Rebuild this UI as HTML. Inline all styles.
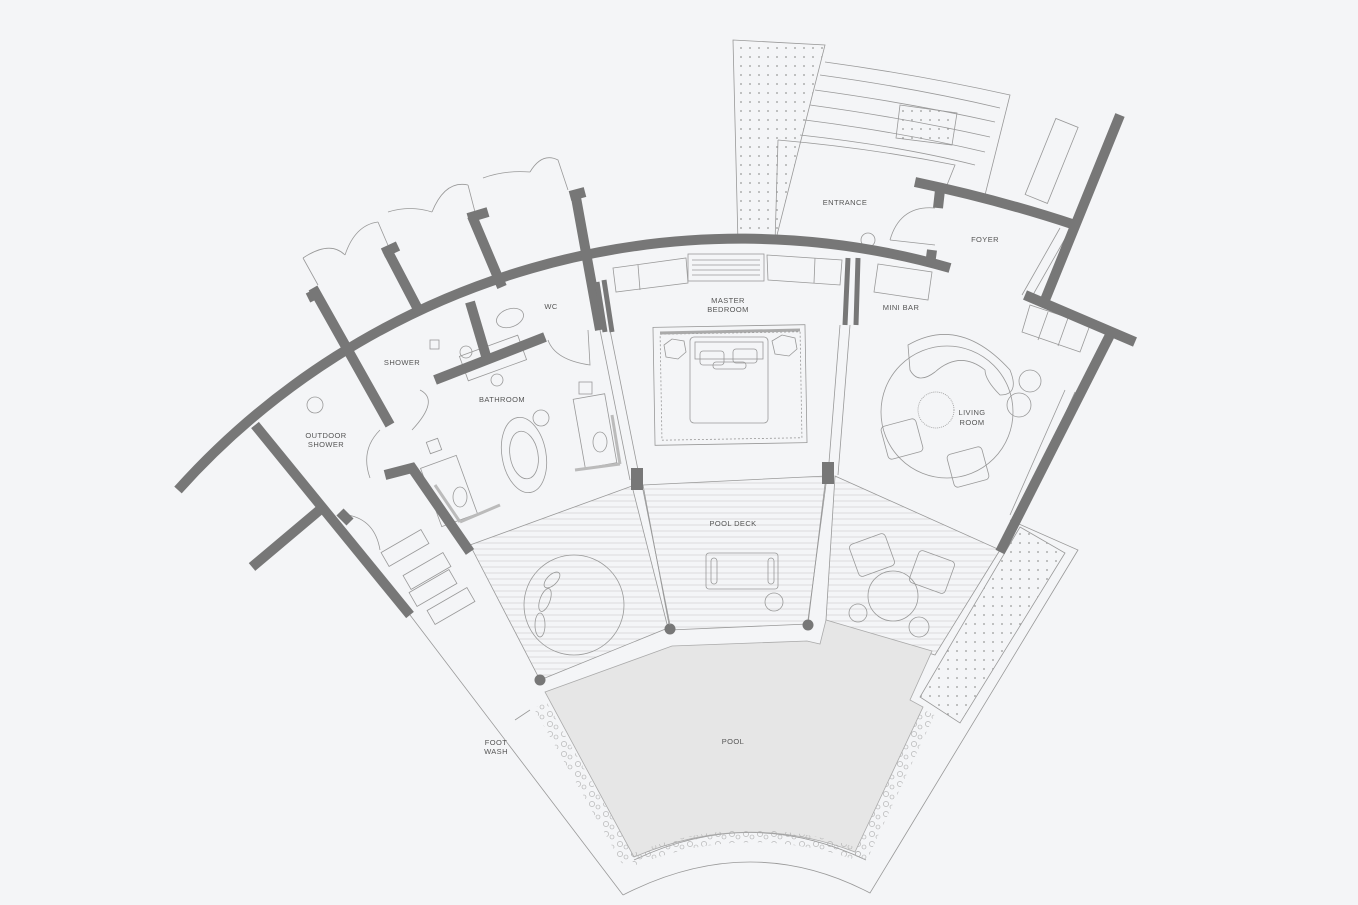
<!DOCTYPE html>
<html><head><meta charset="utf-8"><style>
html,body{margin:0;padding:0;background:#f4f5f7;}
svg{display:block}
text{font-family:"Liberation Sans",sans-serif;font-size:7.5px;fill:#555;text-anchor:middle;letter-spacing:0.4px}
</style></head><body>
<svg width="1358" height="905" viewBox="0 0 1358 905" xmlns="http://www.w3.org/2000/svg">
<defs>
<pattern id="hatch" width="8" height="6" patternUnits="userSpaceOnUse"><line x1="0" y1="3" x2="8" y2="3" stroke="#d6d6d6" stroke-width="0.8"/></pattern>
<pattern id="dots" width="9" height="9" patternUnits="userSpaceOnUse"><circle cx="3" cy="3" r="0.9" fill="#999"/></pattern>
<pattern id="peb" width="14" height="10" patternUnits="userSpaceOnUse"><circle cx="4" cy="4" r="2.6" fill="none" stroke="#aaa" stroke-width="0.6"/><circle cx="10" cy="7" r="2" fill="none" stroke="#aaa" stroke-width="0.6"/></pattern>
</defs>
<g fill="none" stroke="#999" stroke-width="0.8">
<!-- decks hatch -->
<polygon points="470,545 632,486 668,628 540,680" fill="url(#hatch)"/>
<polygon points="643,485 826,476 808,624 670,630" fill="url(#hatch)"/>
<polygon points="835,476 1000,550 935,655 826,620" fill="url(#hatch)"/>
<!-- outer boundary -->
<path d="M410,615 L623,895"/>
<path d="M623,895 Q750,830 870,893 L1078,550 L1010,520"/>
<path d="M634,860 Q750,805 866,860"/>
<!-- pool -->
<path d="M545,692 L672,646 L807,641 L820,644 L826,620 L932,651 L910,700 L923,707 L855,852 Q745,810 634,857 Z" fill="#e6e6e6" stroke="#aaa"/>
<!-- pebble bands -->
<path d="M540,705 L628,860" stroke="url(#peb)" stroke-width="14"/>
<path d="M632,860 Q745,815 860,855" stroke="url(#peb)" stroke-width="12"/>
<path d="M928,712 L860,858" stroke="url(#peb)" stroke-width="14"/>
<!-- dotted strips -->
<polygon points="1020,527 1065,553 960,723 920,697" fill="url(#dots)"/>
<polygon points="733,40 825,45 775,243 738,243" fill="url(#dots)"/>
<polygon points="900,105 957,113 952,145 896,138" fill="url(#dots)"/>
<!-- entrance steps -->
<path d="M825,62 Q920,75 1010,95 L985,195"/>
<path d="M820,75 Q915,88 1000,108"/><path d="M815,90 Q910,103 995,122"/><path d="M810,105 Q905,118 990,137"/><path d="M805,120 Q900,132 985,152"/><path d="M800,135 Q900,146 975,165"/>
<path d="M778,140 Q870,148 955,165 L945,190"/><path d="M778,140 L775,243"/>
<rect x="1040" y="120" width="24" height="82" transform="rotate(22 1052 160)"/>
<!-- arcs doors top left -->
<path d="M303,258 Q330,240 345,255 M345,255 Q355,225 378,222 M388,212 Q410,205 432,212 M432,212 Q445,180 468,185 M483,178 Q505,170 530,172 M530,172 Q542,152 558,160 L568,190"/>
<path d="M303,258 L318,285 M378,222 L390,250 M468,185 L475,212"/>
<!-- room lines -->
<path d="M600,330 L630,480 M610,330 L640,480 M840,325 L828,475 M850,325 L838,475"/>
<path d="M1070,230 L1030,300 M1060,228 L1022,295"/>
<path d="M1065,390 L1010,515 M1075,392 L1018,518"/>
<!-- bedroom furniture -->
<polygon points="613,268 686,258 688,283 616,292"/><line x1="638" y1="265" x2="640" y2="290"/>
<rect x="688" y="254" width="76" height="27"/>
<path d="M692,260 H760 M692,265 H760 M692,270 H760 M692,275 H760"/>
<polygon points="767,255 842,260 840,285 768,280"/><line x1="815" y1="258" x2="814" y2="283"/>
<rect x="654" y="326" width="152" height="118" transform="rotate(-1 730 385)"/>
<rect x="661" y="333" width="140" height="106" stroke-dasharray="2,2" transform="rotate(-1 730 385)"/>
<line x1="660" y1="333" x2="800" y2="330" stroke="#aaa" stroke-width="3"/>
<rect x="690" y="337" width="78" height="86" rx="4"/>
<rect x="695" y="342" width="68" height="17"/>
<rect x="700" y="351" width="24" height="14" rx="3"/><rect x="733" y="349" width="24" height="14" rx="3"/><rect x="713" y="362" width="33" height="7" rx="3"/>
<polygon points="664,345 672,339 684,341 686,352 678,359 666,357"/>
<polygon points="772,341 782,335 795,338 797,349 789,356 775,354"/>
<!-- mini bar -->
<polygon points="878,264 932,272 928,300 874,292"/>
<circle cx="868" cy="240" r="7"/>
<!-- living -->
<path d="M908,345 Q960,315 1010,370 Q1020,395 1000,395 Q985,380 985,370 Q960,350 935,372 Q918,385 910,370 Z"/>
<circle cx="947" cy="412" r="66"/>
<circle cx="936" cy="410" r="18" stroke-dasharray="1,1"/>
<circle cx="1030" cy="381" r="11"/><circle cx="1019" cy="405" r="12"/>
<rect x="884" y="422" width="36" height="34" rx="4" transform="rotate(-15 902 439)"/>
<rect x="950" y="450" width="36" height="34" rx="4" transform="rotate(-15 968 467)"/>
<polygon points="1030,305 1090,325 1080,352 1022,332"/><path d="M1048,312 L1038,340 M1068,318 L1058,346"/>
<!-- foyer door -->
<path d="M890,240 Q900,205 935,208 M890,240 L935,245"/>
<!-- decks furniture -->
<circle cx="574" cy="605" r="50"/>
<ellipse cx="545" cy="600" rx="5" ry="12" transform="rotate(20 545 600)"/><ellipse cx="540" cy="625" rx="5" ry="12"/><ellipse cx="552" cy="580" rx="5" ry="10" transform="rotate(45 552 580)"/>
<rect x="706" y="553" width="72" height="36" rx="3"/><rect x="711" y="558" width="6" height="26" rx="3"/><rect x="768" y="558" width="6" height="26" rx="3"/>
<circle cx="774" cy="602" r="9"/>
<circle cx="893" cy="596" r="25"/><circle cx="858" cy="613" r="9"/><circle cx="919" cy="627" r="10"/>
<rect x="853" y="538" width="38" height="34" rx="4" transform="rotate(-20 872 555)"/>
<rect x="913" y="555" width="38" height="34" rx="4" transform="rotate(20 932 572)"/>
<!-- bathroom -->
<ellipse cx="524" cy="455" rx="22" ry="38" transform="rotate(-10 524 455)"/>
<ellipse cx="524" cy="455" rx="14" ry="24" transform="rotate(-10 524 455)"/>
<circle cx="541" cy="418" r="8"/>
<rect x="579" y="396" width="32" height="70" transform="rotate(-10 595 431)"/><ellipse cx="600" cy="442" rx="7" ry="10"/>
<rect x="579" y="382" width="13" height="12"/>
<rect x="430" y="460" width="38" height="62" transform="rotate(-20 449 491)"/><ellipse cx="460" cy="497" rx="7" ry="10"/>
<rect x="428" y="440" width="12" height="12" transform="rotate(-20 434 446)"/>
<line x1="575" y1="470" x2="620" y2="464" stroke="#bbb" stroke-width="3"/><line x1="612" y1="415" x2="620" y2="464" stroke="#bbb" stroke-width="3"/>
<line x1="435" y1="485" x2="460" y2="522" stroke="#bbb" stroke-width="3"/><line x1="460" y1="522" x2="500" y2="505" stroke="#bbb" stroke-width="3"/>
<rect x="462" y="345" width="62" height="26" transform="rotate(-20 493 358)"/><circle cx="497" cy="380" r="6"/>
<ellipse cx="510" cy="318" rx="14" ry="9" transform="rotate(-20 510 318)"/>
<circle cx="466" cy="352" r="6"/><rect x="430" y="340" width="9" height="9"/>
<path d="M548,340 Q555,360 590,365 L588,330"/>
<path d="M420,390 Q440,400 412,430 M380,430 Q360,450 370,478 M348,515 Q375,520 380,550"/>
<circle cx="315" cy="405" r="8"/>
<!-- outdoor loungers -->
<rect x="382" y="540" width="46" height="16" transform="rotate(-30 405 548)"/>
<rect x="404" y="563" width="46" height="16" transform="rotate(-30 427 571)"/>
<rect x="410" y="580" width="46" height="16" transform="rotate(-30 433 588)"/>
<rect x="428" y="598" width="46" height="16" transform="rotate(-30 451 606)"/>
<path d="M515,720 L530,710"/>
</g>
<!-- walls -->
<g fill="none" stroke="#777" stroke-width="10" stroke-linecap="butt">
<path d="M178,490 A757,757 0 0 1 950,268"/>
<path d="M915,182 Q1000,200 1075,225"/>
<path d="M1120,115 L1045,300"/>
<path d="M1025,295 L1135,342"/>
<path d="M1110,335 L1000,552"/>
<path d="M313,288 L390,425 M320,292 L308,298"/>
<path d="M387,250 L420,313 M383,253 L398,246"/>
<path d="M472,216 L502,287 M468,218 L488,212"/>
<path d="M575,192 L600,330 M570,196 L585,192"/>
<path d="M255,425 L410,615"/>
<path d="M252,567 L322,508"/>
<path d="M340,512 L350,522"/>
<path d="M435,380 L545,337"/>
<path d="M470,302 L486,356"/>
<path d="M385,475 L412,468 L470,552"/>
<path d="M940,190 L938,208 M932,250 L930,265"/>
</g>
<g stroke="#777" stroke-width="5" fill="none">
<path d="M848,258 L845,325 M858,258 L856,325"/>
<path d="M597,282 L605,332 M604,280 L612,332"/>
</g>
<g fill="#777">
<rect x="631" y="468" width="12" height="22"/><rect x="822" y="462" width="12" height="22"/>
<circle cx="540" cy="680" r="5.5"/><circle cx="670" cy="629" r="5.5"/><circle cx="808" cy="625" r="5.5"/>
</g>
<g stroke="#999" stroke-width="0.8"><line x1="643" y1="490" x2="670" y2="625"/><line x1="826" y1="484" x2="808" y2="620"/></g>
<text x="845" y="205">ENTRANCE</text>
<text x="985" y="242">FOYER</text>
<text x="551" y="309">WC</text>
<text x="728" y="303">MASTER</text><text x="728" y="312">BEDROOM</text>
<text x="901" y="310">MINI BAR</text>
<text x="402" y="365">SHOWER</text>
<text x="502" y="402">BATHROOM</text>
<text x="326" y="438">OUTDOOR</text><text x="326" y="447">SHOWER</text>
<text x="972" y="415">LIVING</text><text x="972" y="425">ROOM</text>
<text x="733" y="526">POOL DECK</text>
<text x="733" y="744">POOL</text>
<text x="496" y="745">FOOT</text><text x="496" y="754">WASH</text>
</svg>
</body></html>
